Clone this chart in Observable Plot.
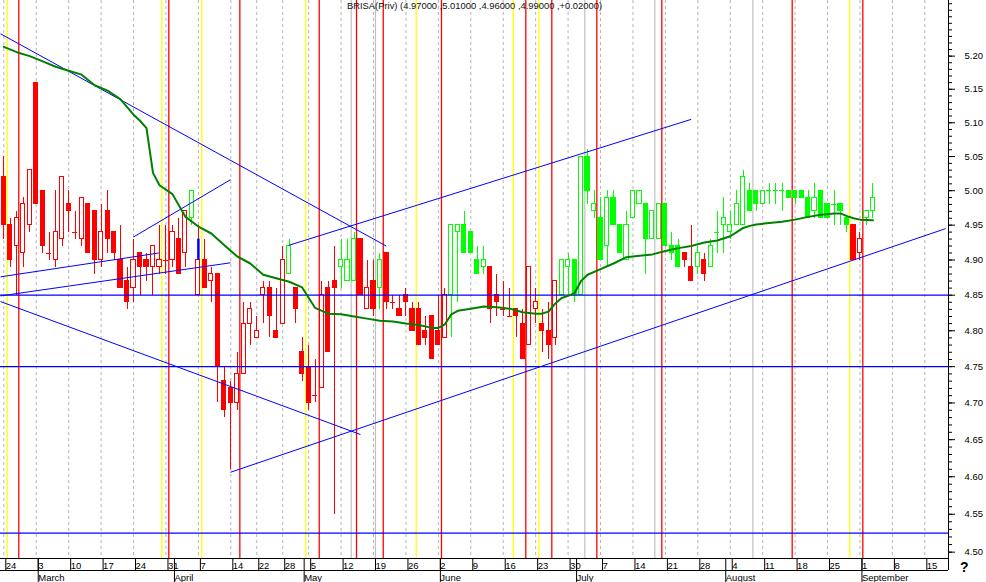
<!DOCTYPE html>
<html><head><meta charset="utf-8">
<script src="https://cdn.jsdelivr.net/npm/d3@7"></script>
<script src="https://cdn.jsdelivr.net/npm/@observablehq/plot@0.6"></script>
<style>html,body{margin:0;padding:0;background:#fff;} #chart{width:986px;height:582px;overflow:hidden}</style>
</head><body><div id="chart"></div>
<script>
// ---- Data (trading-day index 0 = Mon 24 Feb 2003) ----
const opens = [
5.02,4.95,4.92,4.91,4.95,5.16,5.00,4.91,4.90,4.93,
4.98,4.94,4.93,4.98,4.97,4.90,4.97,4.94,4.90,4.87,
4.86,4.91,4.90,4.89,4.89,4.90,4.90,4.93,4.91,4.96,
4.85,4.90,4.87,4.88,4.73,4.72,4.70,4.74,4.81,4.79,
4.85,4.86,4.80,4.81,4.88,4.86,4.77,4.75,4.71,4.72,
4.86,4.87,4.89,4.87,4.87,4.93,4.83,4.87,4.86,4.91,
4.84,4.83,4.85,4.83,4.83,4.80,4.82,4.80,4.79,4.85,
4.94,4.95,4.94,4.90,4.89,4.89,4.85,4.83,4.82,4.83,
4.81,4.78,4.83,4.81,4.80,4.79,4.85,4.89,4.90,4.85,
5.05,4.97,4.96,4.92,4.99,4.95,4.90,4.96,4.98,4.98,
4.93,4.93,4.98,4.92,4.92,4.91,4.89,4.89,4.90,4.89,
4.94,4.95,4.94,4.95,4.95,5.00,5.00,4.98,5.00,5.00,
5.00,5.00,5.00,5.00,4.99,4.97,5.00,4.98,4.98,4.98,
4.96,4.95,4.91,4.96,4.97];
const highs = [
5.05,4.96,4.97,4.99,5.03,5.16,5.00,4.94,5.00,5.02,
5.00,4.97,4.99,4.98,4.97,4.98,5.00,4.94,4.95,4.89,
4.93,4.91,4.91,4.92,4.95,4.95,4.95,4.96,4.97,5.00,
4.95,4.93,4.89,4.88,4.75,4.73,4.77,4.84,4.84,4.82,
4.87,4.87,4.86,4.92,4.93,4.86,4.79,4.78,4.76,4.87,
4.87,4.92,4.93,4.93,4.94,4.93,4.90,4.90,4.91,4.91,
4.85,4.85,4.86,4.84,4.84,4.82,4.82,4.85,4.86,4.95,
4.95,4.97,4.94,4.92,4.92,4.89,4.88,4.87,4.86,4.83,
4.83,4.89,4.86,4.83,4.84,4.87,4.90,4.91,4.90,5.05,
5.06,5.00,4.99,5.00,5.00,4.95,4.97,5.00,5.00,4.98,
4.97,4.98,4.98,4.94,4.93,4.91,4.95,4.92,4.91,4.93,
4.97,4.99,4.97,5.00,5.03,5.01,5.00,5.00,5.01,5.01,
5.01,5.00,5.00,5.00,5.00,5.01,5.00,4.98,5.00,4.98,
4.96,4.95,4.94,4.97,5.01];
const lows = [
4.93,4.89,4.85,4.89,4.94,4.98,4.91,4.90,4.89,4.92,
4.94,4.93,4.92,4.91,4.88,4.89,4.91,4.90,4.86,4.83,
4.84,4.85,4.87,4.85,4.88,4.88,4.89,4.88,4.89,4.95,
4.85,4.86,4.84,4.70,4.68,4.61,4.69,4.74,4.78,4.79,
4.81,4.79,4.79,4.81,4.88,4.81,4.73,4.69,4.70,4.72,
4.77,4.55,4.86,4.87,4.87,4.85,4.83,4.82,4.83,4.83,
4.83,4.82,4.82,4.80,4.78,4.78,4.76,4.78,4.79,4.79,
4.84,4.91,4.91,4.88,4.88,4.81,4.82,4.82,4.82,4.79,
4.76,4.78,4.81,4.77,4.76,4.78,4.85,4.85,4.84,4.85,
4.98,4.96,4.90,4.89,4.95,4.91,4.90,4.96,4.98,4.88,
4.93,4.93,4.92,4.90,4.89,4.89,4.87,4.88,4.87,4.89,
4.91,4.91,4.93,4.95,4.95,4.97,4.97,4.98,4.98,4.98,
4.97,4.99,4.98,4.99,4.96,4.96,4.96,4.96,4.95,4.95,
4.94,4.90,4.90,4.95,4.96];
const closes = [
4.95,4.90,4.96,4.98,5.03,4.98,4.92,4.91,4.94,5.02,
4.97,4.94,4.99,4.91,4.90,4.94,4.93,4.91,4.86,4.84,
4.90,4.89,4.89,4.92,4.90,4.90,4.94,4.88,4.97,5.00,
4.90,4.86,4.88,4.75,4.69,4.70,4.74,4.81,4.83,4.80,
4.86,4.82,4.79,4.90,4.92,4.83,4.74,4.70,4.71,4.85,
4.77,4.86,4.90,4.90,4.93,4.85,4.86,4.83,4.90,4.84,
4.84,4.82,4.84,4.80,4.78,4.79,4.76,4.78,4.85,4.95,
4.95,4.91,4.91,4.88,4.90,4.83,4.84,4.83,4.82,4.82,
4.76,4.89,4.84,4.80,4.78,4.87,4.90,4.90,4.85,5.05,
5.00,4.98,4.90,4.99,4.95,4.91,4.95,5.00,5.00,4.93,
4.97,4.98,4.92,4.91,4.89,4.90,4.87,4.91,4.88,4.92,
4.94,4.96,4.95,4.98,5.02,4.97,4.98,5.00,5.00,5.00,
5.00,4.99,4.99,4.99,4.96,4.99,4.96,4.96,4.98,4.97,
4.95,4.90,4.93,4.97,4.99];
const tones = ("rrrrrrrrrr" + "rrrrrrrrrr" + "rrrrrrrrrg" + "rrrrrrrrrr" + "rrrrgrrrrr" +
  "rrgggrrrgr" + "rrrrrrrrrg" + "gggggrrrrr" + "rrrrrrgggg" + "gggggggggg" +
  "gggggrrgrg" + "gggggggggg" + "gggggggggg" + "grrgg").split("");

// blue marker bar
const blueIdx = [30], blueLo = [4.90], blueHi = [4.93];

// moving average (index, value)
const maIdx = [0,2,4,6,8,10,12,14,16,18,20,21,22,23,24,26,28,30,32,34,36,38,40,42,44,46,48,50,52,54,56,58,60,62,64,66,67,68,69,70,72,74,76,78,80,82,83,84,85,86,87,88,89,90,92,94,96,98,100,102,104,106,108,110,112,113,114,115,116,118,120,122,124,126,128,129,130,131,132,134];
const maVal = [5.214,5.206,5.200,5.192,5.184,5.178,5.172,5.156,5.148,5.135,5.112,5.103,5.092,5.026,5.008,4.995,4.962,4.948,4.938,4.921,4.905,4.895,4.879,4.874,4.869,4.861,4.832,4.824,4.823,4.820,4.817,4.814,4.813,4.810,4.808,4.804,4.804,4.809,4.823,4.828,4.831,4.834,4.833,4.831,4.826,4.824,4.824,4.827,4.838,4.846,4.849,4.853,4.870,4.879,4.887,4.895,4.904,4.906,4.908,4.913,4.917,4.920,4.925,4.928,4.934,4.940,4.946,4.949,4.951,4.953,4.955,4.958,4.962,4.965,4.967,4.967,4.963,4.960,4.958,4.957];

// trend lines
const trendX1 = [-0.51, -0.51, 34.95, 43.94, 20.0, -0.51, -0.51];
const trendP1 = [5.234, 4.841, 4.606, 4.921, 4.933, 4.876, 4.849];
const trendX2 = [58.96, 54.99, 145.2, 105.98, 34.95, 23.9, 34.95];
const trendP2 = [4.920, 4.657, 4.945, 5.105, 5.016, 4.910, 4.896];

// horizontal levels
const hLevels = [4.85, 4.75, 4.525];

// vertical markers (trading-day index)
const redLines = [2.31, 25.44, 36.39, 48.63, 54.38, 58.5, 67.48, 80.48, 84.49, 91.43, 101.45, 121.55, 132.44];
const yellowLines = [0.52, 24.36, 30.53, 46.56, 63.58, 78.54, 82.49, 130.43];
const grayLines = [53.56, 57.3, 89.58, 100.37, 115.49];

// axis ticks
const weekIdx = [0,5,10,15,20,25,30,35,39,43,47,52,57,62,67,72,77,82,87,92,97,102,107,112,117,122,127,132,137,142];
const weekLabels = ["24","3","10","17","24","31","7","14","22","28","5","12","19","26","2","9","16","23","30","7","14","21","28","4","11","18","25","1","8","15"];
const monthIdx = [5,26,46,67,88,111,132];
const monthNames = ["March","April","May","June","July","August","September"];
const symbol = "BRISA(Priv)";

// ---- Build ----
const xDomain = [-0.51, 145.65];
const yDomain = [4.4917, 5.285];
const col = t => t === "g" ? "#00ff00" : "#ff0000";
const candles = opens.map((o, i) => ({i, open: o, high: highs[i], low: lows[i], close: closes[i], tone: tones[i]}));
const bodies = candles.filter(d => d.open !== d.close);
const dojis = candles.filter(d => d.open === d.close);
const HW = 0.32;
const ma = maIdx.map((i, k) => ({i, v: maVal[k]}));
const trends = trendX1.map((x, k) => ({x1: x, p1: trendP1[k], x2: trendX2[k], p2: trendP2[k]}));
const blue = blueIdx.map((i, k) => ({i, lo: blueLo[k], hi: blueHi[k]}));
const last = candles[candles.length - 1], prev = candles[candles.length - 2];
const f5 = v => v.toFixed(5);
const title = `${symbol} (${f5(last.open)} ,${f5(last.high)} ,${f5(last.low)} ,${f5(last.close)} ,${d3.format("+.5f")(last.close - prev.close)})`;
const majors = d3.range(450, 521, 5).map(v => v / 100);
const minors = d3.range(450, 529, 1).map(v => v / 100);

const chart = Plot.plot({
  width: 986, height: 582,
  marginLeft: 0, marginRight: 38, marginTop: 0, marginBottom: 24,
  style: {fontFamily: "'Liberation Sans', Arial, sans-serif", background: "#ffffff", overflow: "visible", color: "#000"},
  x: {domain: xDomain, axis: null, label: null},
  y: {type: "log", domain: yDomain, axis: null, label: null},
  color: {type: "identity"},
  marks: [
    Plot.ruleX(weekIdx, {stroke: "#b4b4b4", strokeDasharray: "3,3"}),
    Plot.ruleX(grayLines, {stroke: "#c0c0c0", strokeWidth: 1.2}),
    Plot.ruleX(yellowLines, {stroke: "#ffff00", strokeWidth: 1.3}),
    Plot.ruleX(redLines, {stroke: "#ff0000", strokeWidth: 1.3}),
    Plot.ruleX(candles, {x: "i", y1: "low", y2: "high", stroke: d => col(d.tone), shapeRendering: "crispEdges"}),
    Plot.rect(bodies, {x1: d => d.i - HW, x2: d => d.i + HW, y1: "open", y2: "close",
      fill: d => d.close > d.open ? "#ffffff" : col(d.tone), stroke: d => col(d.tone), shapeRendering: "crispEdges"}),
    Plot.ruleY(dojis, {y: "open", x1: d => d.i - HW - 0.05, x2: d => d.i + HW + 0.05, stroke: d => col(d.tone), shapeRendering: "crispEdges"}),
    Plot.ruleX(blue, {x: "i", y1: "lo", y2: "hi", stroke: "#0000ff", strokeWidth: 2.5}),
    Plot.ruleY(hLevels, {stroke: "#0000ff", strokeWidth: 1.2}),
    Plot.link(trends, {x1: "x1", y1: "p1", x2: "x2", y2: "p2", stroke: "#0000ff", strokeWidth: 1}),
    Plot.line(ma, {x: "i", y: "v", stroke: "#008000", strokeWidth: 2}),
    Plot.text([title], {frameAnchor: "top", dy: 2, lineAnchor: "top", fontSize: 9.4, fill: "#111"}),
    // axis frame lines
    Plot.ruleY([yDomain[0]], {stroke: "#000"}),
    Plot.ruleY([yDomain[0]], {stroke: "#000", dy: 12}),
    Plot.ruleX([xDomain[1]], {stroke: "#000"}),
    Plot.ruleX([xDomain[1]], {stroke: "#000", dy: 12}),
    // right price axis
    Plot.axisY({anchor: "right", ticks: minors, tickSize: 3, tickFormat: () => "", label: null}),
    Plot.axisY({anchor: "right", ticks: majors, tickSize: 6, tickPadding: 10, tickFormat: d3.format(".2f"), fontSize: 9.5, label: null}),
    // bottom date axes
    Plot.axisX({anchor: "bottom", ticks: weekIdx, tickSize: 12, tickPadding: -8, textAnchor: "start", dx: 2,
      tickFormat: d => weekLabels[weekIdx.indexOf(d)], fontSize: 9.5, label: null}),
    Plot.axisX({anchor: "bottom", ticks: monthIdx, tickSize: 24, tickPadding: -8, textAnchor: "start", dx: 2,
      tickFormat: d => monthNames[monthIdx.indexOf(d)], fontSize: 9.5, label: null}),
    Plot.text(["?"], {frameAnchor: "bottom-right", dx: 20, dy: 13, fontSize: 14, fontWeight: "bold", fill: "#000"})
  ]
});
document.getElementById("chart").appendChild(chart);
</script>
</body></html>
